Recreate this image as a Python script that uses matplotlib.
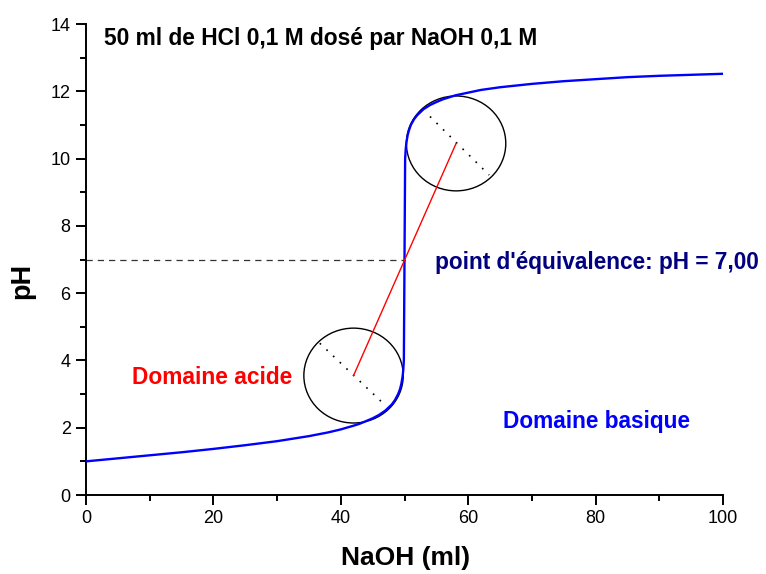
import matplotlib
matplotlib.use("Agg")
import matplotlib.pyplot as plt
from matplotlib.patches import Ellipse
from matplotlib.ticker import MultipleLocator

plt.rcParams['font.family'] = ['Liberation Sans', 'DejaVu Sans']

# Titration curve values
naoh_ml = [0, 5, 10, 15, 20, 25, 30, 35, 38, 40, 42, 43, 44, 45, 46, 47, 47.5,
           48, 48.5, 49, 49.3, 49.5, 49.7, 49.8, 49.9, 50, 50.1, 50.2, 50.3,
           50.5, 50.7, 51, 51.5, 52, 53, 54, 55, 56, 57, 58, 60, 62, 65, 70,
           75, 80, 85, 90, 95, 100]
ph = [1.00, 1.09, 1.18, 1.27, 1.37, 1.48, 1.60, 1.75, 1.86, 1.95, 2.06, 2.12,
      2.20, 2.28, 2.38, 2.51, 2.60, 2.69, 2.82, 3.00, 3.15, 3.30, 3.52, 3.70,
      4.00, 7.00, 10.00, 10.30, 10.48, 10.70, 10.84, 11.00, 11.17, 11.29,
      11.47, 11.59, 11.68, 11.76, 11.82, 11.88, 11.96, 12.04, 12.12, 12.22,
      12.30, 12.36, 12.42, 12.46, 12.49, 12.52]

equiv_x, equiv_ph = 50, 7.0
acid_center = (42.0, 3.55)
base_center = (58.1, 10.45)
acid_dots = ([36.7, 46.9], [4.51, 2.68])
base_dots = ([54.0, 63.3], [11.25, 9.51])

title_text = "50 ml de HCl 0,1 M dosé par NaOH 0,1 M"
equiv_text = "point d'équivalence: pH = 7,00"
acid_text = "Domaine acide"
base_text = "Domaine basique"

fig = plt.figure(figsize=(7.66, 5.74), dpi=100)
ax = fig.add_axes([86/766, 1-495/574, (723-86)/766, (495-24)/574])

ax.plot(naoh_ml, ph, color='#0000ff', lw=1.7, zorder=3)
ax.plot([0, equiv_x], [equiv_ph, equiv_ph], color='#333333', lw=0.9,
        dashes=(5, 4), zorder=2)
ax.plot([acid_center[0], base_center[0]], [acid_center[1], base_center[1]],
        color='red', lw=1.0, zorder=4)
ax.plot(*acid_dots, color='black', lw=1.2, dashes=(1, 4.5), zorder=2)
ax.plot(*base_dots, color='black', lw=1.2, dashes=(1, 4.5), zorder=2)
for c in (acid_center, base_center):
    ax.add_patch(Ellipse(c, 15.6, 2.82, fill=False, edgecolor='black', lw=1.0,
                         zorder=2))

ax.set_xlim(0, 100)
ax.set_ylim(0, 14)
ax.spines['top'].set_visible(False)
ax.spines['right'].set_visible(False)
for s in ('left', 'bottom'):
    ax.spines[s].set_linewidth(1.4)
ax.xaxis.set_major_locator(MultipleLocator(20))
ax.xaxis.set_minor_locator(MultipleLocator(10))
ax.yaxis.set_major_locator(MultipleLocator(2))
ax.yaxis.set_minor_locator(MultipleLocator(1))
ax.tick_params(which='major', direction='out', length=7, width=1.4,
               labelsize=13, pad=4)
ax.tick_params(which='minor', direction='out', length=4, width=1.4)

ax.set_xlabel("NaOH (ml)", fontsize=19, fontweight='bold')
ax.set_ylabel("pH", fontsize=19.5, fontweight='bold')
ax.xaxis.set_label_coords(0.5016, -0.108)
ax.yaxis.set_label_coords(-0.079, 0.454)

ax.text(2.8, 13.57, title_text, fontsize=16.4, fontweight='bold', va='center',
        ha='left', color='black')
ax.text(54.8, 6.9, equiv_text, fontsize=16.3, fontweight='bold', va='center',
        ha='left', color='#000080')
ax.text(7.2, 3.5, acid_text, fontsize=16.4, fontweight='bold', va='center',
        ha='left', color='red')
ax.text(65.5, 2.18, base_text, fontsize=16.3, fontweight='bold', va='center',
        ha='left', color='#0000ff')

fig.savefig("out.png", dpi=100)
